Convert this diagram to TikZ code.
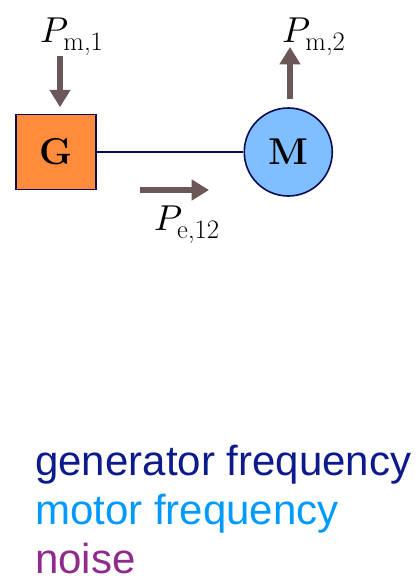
\documentclass[tikz,border=0pt]{standalone}
\usepackage{fontspec}
\usepackage{unicode-math}
\setmathfont{Latin Modern Math}
\newfontfamily\legfont{Liberation Sans}
\usepackage{tikz}
\usetikzlibrary{positioning, arrows.meta, calc}
\definecolor{gmOrange}{HTML}{FF8C3A}
\definecolor{gmBlue}{HTML}{80BFFF}
\definecolor{gmNavy}{HTML}{0B0B55}
\definecolor{gmFlow}{HTML}{6B5757}
\definecolor{gmGenTxt}{HTML}{0D1A8C}
\definecolor{gmMotTxt}{HTML}{0099FF}
\definecolor{gmNoise}{HTML}{902B8E}
\newcommand{\pwr}[1]{$P_{\mbox{\fontsize{20}{22}\selectfont #1}}$}
\begin{document}
\begin{tikzpicture}[
    x=0.75pt, y=0.75pt,
    genbox/.style ={draw=gmNavy, line width=1.2pt, fill=gmOrange, minimum width=60pt, minimum height=56pt, inner sep=0pt, font=\fontsize{28}{32}\selectfont\bfseries},
    motcirc/.style={draw=gmNavy, line width=1.2pt, fill=gmBlue, circle, minimum size=66pt, inner sep=0pt, font=\fontsize{28}{32}\selectfont\bfseries},
    link/.style   ={draw=gmNavy, line width=1.5pt},
    flow/.style   ={-{Triangle[width=15pt,length=13pt]}, line width=4.5pt, gmFlow},
    plabel/.style ={anchor=base, inner sep=0pt, font=\fontsize{27}{31}\selectfont},
    leg/.style    ={anchor=base west, inner sep=0pt, font=\legfont\fontsize{31.5}{36}\selectfont},
]
\useasboundingbox (0,0) rectangle (418,-578);

% ---- Machines ----
\node[genbox] (gen) at (56,-152) {G};
\node[motcirc, right=110pt of gen] (mot) {M};
\draw[link] (gen) -- (mot);

% ---- Power flows ----
\coordinate (pm1top) at (60,-56);
\coordinate (pm2top) at (290,-47);
\coordinate (petail) at (140,-190);
\coordinate (pehead) at (209,-190);

\draw[flow, shorten >=5pt] (pm1top) -- (pm1top |- gen.north);
\draw[flow, shorten <=6pt] (pm2top |- mot.north) -- (pm2top);
\draw[flow] (petail) -- (pehead);

\node[plabel] (pm1) at (72,-42) {\pwr{m,1}};
\node[plabel] (pm2) at (314,-42) {\pwr{m,2}};
\node[plabel] (pe12) at (187,-230) {\pwr{e,12}};

% ---- Legend ----
\node[leg, text=gmGenTxt] (genfreq) at (35,-475) {generator frequency};
\node[leg, text=gmMotTxt] (motfreq) at ([yshift=-36.75pt]genfreq.base west) {motor frequency};
\node[leg, text=gmNoise] (noiselbl) at ([yshift=-36.75pt]motfreq.base west) {noise};

\end{tikzpicture}
\end{document}
